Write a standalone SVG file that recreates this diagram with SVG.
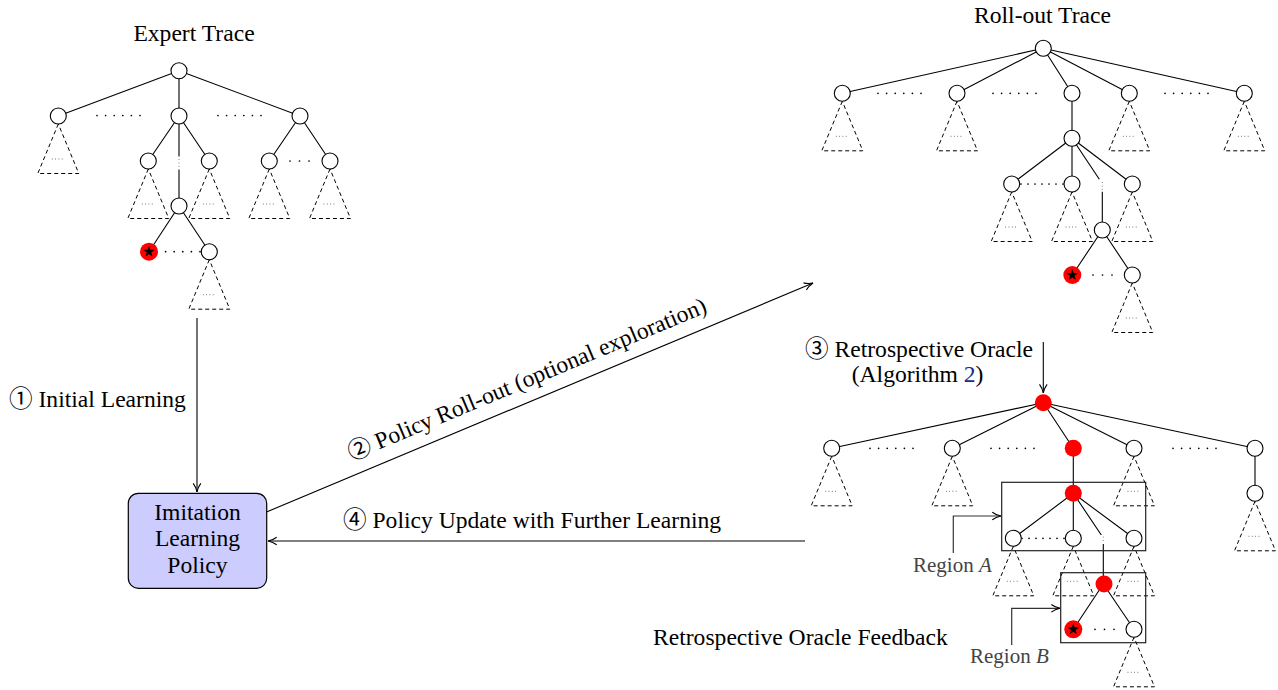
<svg xmlns="http://www.w3.org/2000/svg" xmlns:xlink="http://www.w3.org/1999/xlink" width="1278" height="690" viewBox="0 0 1278 690">
<style>
.e{stroke:#000;stroke-width:1.1;fill:none}
.n{fill:#fff;stroke:#000;stroke-width:1.1}
.r{fill:#f00}
.t{fill:none;stroke:#000;stroke-width:1;stroke-dasharray:4 3}
.td{stroke:#555;stroke-width:1;stroke-linecap:round;stroke-dasharray:0 3.3;fill:none}
.d{stroke:#000;stroke-width:1.7;stroke-linecap:round;stroke-dasharray:0 8.6;fill:none}
.d7{stroke:#000;stroke-width:1.7;stroke-linecap:round;stroke-dasharray:0 7;fill:none}
.d3{stroke:#000;stroke-width:1.7;stroke-linecap:round;stroke-dasharray:0 9.5;fill:none}
.v{stroke:#777;stroke-width:1.2;stroke-linecap:round;stroke-dasharray:0 3.5;fill:none}
.txt{font-family:'Liberation Serif','Noto Sans CJK JP',serif;font-size:23.6px;fill:#000}
.reg{font-family:'Liberation Serif',serif;font-size:21px;fill:#444}
.a{stroke:#000;stroke-width:1.1;fill:none}
.box{fill:#ccccff;stroke:#000;stroke-width:1.2}
.rb{fill:none;stroke:#222;stroke-width:1.2}
.ra{stroke:#333;stroke-width:1.2;fill:none}
</style>
<defs>
<marker id="ah" viewBox="0 0 10 10" refX="9.5" refY="5" markerWidth="10" markerHeight="10" markerUnits="userSpaceOnUse" orient="auto">
<path d="M0.8,1.2 Q4.5,4 9.5,5 Q4.5,6 0.8,8.8" fill="none" stroke="#000" stroke-width="1.1"/>
</marker>
<g id="tri">
<path class="t" d="M0,8 L-20.5,57.5 L20.5,57.5 Z"/>
<line class="td" x1="-6" y1="43" x2="6.2" y2="43"/>
</g>
<polygon id="star" points="0,-6 1.41,-1.94 5.71,-1.85 2.28,0.74 3.53,4.85 0,2.4 -3.53,4.85 -2.28,0.74 -5.71,-1.85 -1.41,-1.94" fill="#000"/>
</defs>

<g id="connectors">
<line class="a" x1="197" y1="318" x2="197" y2="492" marker-end="url(#ah)"/>
<line class="a" x1="266.5" y1="512" x2="813" y2="283" marker-end="url(#ah)"/>
<line class="a" x1="805" y1="541" x2="268" y2="541" marker-end="url(#ah)"/>
<line class="a" x1="1043.3" y1="342" x2="1043.3" y2="393" marker-end="url(#ah)"/>
<polyline class="ra" points="953.3,553 953.3,516 1001,516" marker-end="url(#ah)"/>
<polyline class="ra" points="1011.7,645 1011.7,608.3 1060,608.3" marker-end="url(#ah)"/>
</g>

<g id="labels">
<text class="txt" x="194" y="41" text-anchor="middle">Expert Trace</text>
<text class="txt" x="1042.5" y="23" text-anchor="middle">Roll-out Trace</text>
<text class="txt" x="9" y="407">① Initial Learning</text>
<text class="txt" x="530" y="386.3" text-anchor="middle" transform="rotate(-22.7 530 386.3)">② Policy Roll-out (optional exploration)</text>
<text class="txt" x="343" y="528">④ Policy Update with Further Learning</text>
<text class="txt" x="805" y="357">③ Retrospective Oracle</text>
<text class="txt" x="851.7" y="382">(Algorithm <tspan fill="#1a2a8a">2</tspan>)</text>
<text class="txt" x="653" y="645">Retrospective Oracle Feedback</text>
<text class="reg" x="913" y="572">Region <tspan font-style="italic">A</tspan></text>
<text class="reg" x="970" y="663">Region <tspan font-style="italic">B</tspan></text>
</g>

<g id="policy">
<rect class="box" x="128.3" y="493.3" width="138.4" height="95" rx="10"/>
<text class="txt" x="197.5" y="520" text-anchor="middle">Imitation</text>
<text class="txt" x="197.5" y="546" text-anchor="middle">Learning</text>
<text class="txt" x="197.5" y="572.5" text-anchor="middle">Policy</text>
</g>

<g id="expert-tree">
<path class="e" d="M179,70.7 L58.3,116 M179,70.7 L179,116 M179,70.7 L300,116 M179,116 L148.3,161 M179,116 L209.3,161 M179,116 L179,156.5 M179,169.5 L179,206 M300,116 L269.3,161 M300,116 L330,161 M179,206 L149,251.7 M179,206 L209.3,251.7"/>
<line class="v" x1="179" y1="159.5" x2="179" y2="166.6"/>
<line class="d" x1="97" y1="115.5" x2="140.5" y2="115.5"/>
<line class="d" x1="218" y1="115.5" x2="261.5" y2="115.5"/>
<line class="d3" x1="290" y1="161" x2="309.5" y2="161"/>
<line class="d" x1="157" y1="251.7" x2="200.5" y2="251.7"/>
<use xlink:href="#tri" x="58.3" y="116"/>
<use xlink:href="#tri" x="148.3" y="161"/>
<use xlink:href="#tri" x="209.3" y="161"/>
<use xlink:href="#tri" x="269.3" y="161"/>
<use xlink:href="#tri" x="330" y="161"/>
<use xlink:href="#tri" x="209.3" y="251.7"/>
<circle class="n" cx="179" cy="70.7" r="8"/>
<circle class="n" cx="58.3" cy="116" r="8"/>
<circle class="n" cx="179" cy="116" r="8"/>
<circle class="n" cx="300" cy="116" r="8"/>
<circle class="n" cx="148.3" cy="161" r="8"/>
<circle class="n" cx="209.3" cy="161" r="8"/>
<circle class="n" cx="269.3" cy="161" r="8"/>
<circle class="n" cx="330" cy="161" r="8"/>
<circle class="n" cx="179" cy="206" r="8"/>
<circle class="n" cx="209.3" cy="251.7" r="8"/>
<circle class="r" cx="149" cy="251.7" r="9"/>
<use xlink:href="#star" x="149" y="251.7"/>
</g>

<g id="rollout-tree">
<path class="e" d="M1043.3,48.3 L842.3,93.3 M1043.3,48.3 L957,93.3 M1043.3,48.3 L1072,93.3 M1043.3,48.3 L1129.3,93.3 M1043.3,48.3 L1244.3,93.3 M1072,93.3 L1072,138.3 M1072,138.3 L1011.7,184 M1072,138.3 L1072,184 M1072,138.3 L1132.3,184 M1072,138.3 L1099.3,179.3 M1102.3,191.7 L1102.3,230 M1102.3,230 L1072.3,275 M1102.3,230 L1132.3,275"/>
<line class="v" x1="1102.3" y1="182.5" x2="1102.3" y2="189.6"/>
<line class="d" x1="878" y1="93.3" x2="921.5" y2="93.3"/>
<line class="d" x1="993" y1="93.3" x2="1036.5" y2="93.3"/>
<line class="d" x1="1165" y1="93.3" x2="1208.5" y2="93.3"/>
<line class="d7" x1="1021" y1="184" x2="1063.5" y2="184"/>
<line class="d3" x1="1093" y1="275" x2="1112.5" y2="275"/>
<use xlink:href="#tri" x="842.3" y="93.3"/>
<use xlink:href="#tri" x="957" y="93.3"/>
<use xlink:href="#tri" x="1129.3" y="93.3"/>
<use xlink:href="#tri" x="1244.3" y="93.3"/>
<use xlink:href="#tri" x="1011.7" y="184"/>
<use xlink:href="#tri" x="1072" y="184"/>
<use xlink:href="#tri" x="1132.3" y="184"/>
<use xlink:href="#tri" x="1132.3" y="275"/>
<circle class="n" cx="1043.3" cy="48.3" r="8"/>
<circle class="n" cx="842.3" cy="93.3" r="8"/>
<circle class="n" cx="957" cy="93.3" r="8"/>
<circle class="n" cx="1072" cy="93.3" r="8"/>
<circle class="n" cx="1129.3" cy="93.3" r="8"/>
<circle class="n" cx="1244.3" cy="93.3" r="8"/>
<circle class="n" cx="1072" cy="138.3" r="8"/>
<circle class="n" cx="1011.7" cy="184" r="8"/>
<circle class="n" cx="1072" cy="184" r="8"/>
<circle class="n" cx="1132.3" cy="184" r="8"/>
<circle class="n" cx="1102.3" cy="230" r="8"/>
<circle class="n" cx="1132.3" cy="275" r="8"/>
<circle class="r" cx="1072.3" cy="275" r="9"/>
<use xlink:href="#star" x="1072.3" y="275"/>
</g>

<g id="oracle-tree">
<path class="e" d="M1043.3,402.7 L831.7,448.3 M1043.3,402.7 L952.3,448.3 M1043.3,402.7 L1073.3,448.3 M1043.3,402.7 L1134,448.3 M1043.3,402.7 L1255,448.3 M1073.3,448.3 L1073.3,493.3 M1255,448.3 L1255,493.3 M1073.3,493.3 L1013.3,538.3 M1073.3,493.3 L1073.3,538.3 M1073.3,493.3 L1134,538.3 M1073.3,493.3 L1101.3,535 M1103.3,544 L1103.3,584 M1103.3,584 L1073.3,629.3 M1103.3,584 L1134,629.3"/>
<line class="v" x1="1103.3" y1="537" x2="1103.3" y2="542.1"/>
<line class="d" x1="870" y1="448.3" x2="913.5" y2="448.3"/>
<line class="d" x1="991" y1="448.3" x2="1034.5" y2="448.3"/>
<line class="d" x1="1173" y1="448.3" x2="1216.5" y2="448.3"/>
<line class="d7" x1="1022" y1="538.3" x2="1064.5" y2="538.3"/>
<line class="d3" x1="1095" y1="629.3" x2="1114.5" y2="629.3"/>
<use xlink:href="#tri" x="831.7" y="448.3"/>
<use xlink:href="#tri" x="952.3" y="448.3"/>
<use xlink:href="#tri" x="1134" y="448.3"/>
<use xlink:href="#tri" x="1255" y="493.3"/>
<use xlink:href="#tri" x="1013.3" y="538.3"/>
<use xlink:href="#tri" x="1073.3" y="538.3"/>
<use xlink:href="#tri" x="1134" y="538.3"/>
<use xlink:href="#tri" x="1134" y="629.3"/>
<rect class="rb" x="1001.7" y="482.3" width="144" height="68.4"/>
<rect class="rb" x="1060.7" y="572.7" width="85" height="70"/>
<circle class="r" cx="1043.3" cy="402.7" r="8.5"/>
<circle class="n" cx="831.7" cy="448.3" r="8"/>
<circle class="n" cx="952.3" cy="448.3" r="8"/>
<circle class="r" cx="1073.3" cy="448.3" r="8.5"/>
<circle class="n" cx="1134" cy="448.3" r="8"/>
<circle class="n" cx="1255" cy="448.3" r="8"/>
<circle class="r" cx="1073.3" cy="493.3" r="8.5"/>
<circle class="n" cx="1255" cy="493.3" r="8"/>
<circle class="n" cx="1013.3" cy="538.3" r="8"/>
<circle class="n" cx="1073.3" cy="538.3" r="8"/>
<circle class="n" cx="1134" cy="538.3" r="8"/>
<circle class="r" cx="1104" cy="584" r="8.5"/>
<circle class="n" cx="1134" cy="629.3" r="8"/>
<circle class="r" cx="1073.3" cy="629.3" r="9"/>
<use xlink:href="#star" x="1073.3" y="629.3"/>
</g>
</svg>
